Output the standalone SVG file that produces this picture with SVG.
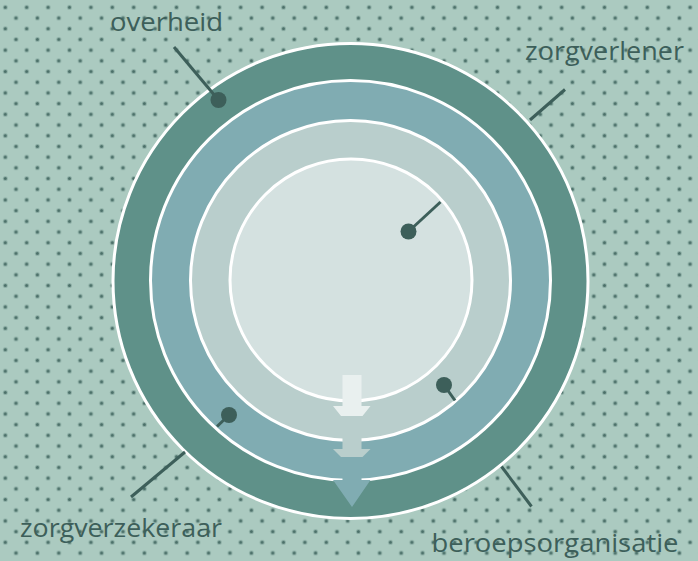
<svg xmlns="http://www.w3.org/2000/svg" width="698" height="561" viewBox="0 0 698 561">
<defs>
<pattern id="dots" patternUnits="userSpaceOnUse" x="0" y="0" width="21.4" height="21.4">
<circle cx="5.3" cy="7.3" r="2.5" fill="#6f948b" opacity="0.5"/>
<circle cx="5.3" cy="7.3" r="1.5" fill="#4a6f68"/>
<circle cx="16" cy="18" r="2.5" fill="#6f948b" opacity="0.5"/>
<circle cx="16" cy="18" r="1.5" fill="#4a6f68"/>
</pattern>
<style>
.ring{stroke:#ffffff;stroke-width:3}
.lbl{font-family:"Open Sans","Lato","DejaVu Sans",sans-serif;font-size:26px;fill:#3d5f5a}
.ln{stroke:#3d5f5a;stroke-width:3;fill:none}
.pin{fill:#3d5f5a}
</style>
</defs>
<rect x="0" y="0" width="698" height="561" fill="#abcac0"/>
<rect x="0" y="0" width="698" height="561" fill="url(#dots)"/>
<g id="rings">
<circle id="ring-outer" class="ring" cx="350.5" cy="281" r="237.5" fill="#5f9189"/>
<circle id="ring-2" class="ring" cx="350.5" cy="280.5" r="200" fill="#80acb2"/>
<circle id="ring-3" class="ring" cx="350.5" cy="280.5" r="160" fill="#b9cecc"/>
<circle id="ring-inner" class="ring" cx="351" cy="280" r="121" fill="#d4e1e0"/>
</g>
<g id="arrows">
<polygon id="arrow-1" fill="#e9f0ef" points="342.5,375 361.5,375 361.5,406 370.5,406 362.5,416 341,416 333,406 342.5,406"/>
<polygon id="arrow-2" fill="#b9cecc" points="342.5,430 361.5,430 361.5,449 370.5,449 362.5,457 341,457 333,449 342.5,449"/>
<polygon id="arrow-3" fill="#80acb2" points="342.5,458 361.5,458 361.5,480 370.5,480 352,507 333,480 342.5,480"/>
</g>
<g id="connectors">
<line class="ln" x1="174" y1="47" x2="218.5" y2="100"/>
<circle class="pin" cx="218.5" cy="100" r="8"/>
<line class="ln" x1="565" y1="89.5" x2="530" y2="120"/>
<line class="ln" x1="408.5" y1="231.5" x2="440.5" y2="202"/>
<circle class="pin" cx="408.5" cy="231.5" r="8"/>
<line class="ln" x1="444" y1="385" x2="455" y2="400.5"/>
<circle class="pin" cx="444" cy="385" r="8"/>
<line class="ln" x1="229" y1="415" x2="217" y2="426.5"/>
<circle class="pin" cx="229" cy="415" r="8"/>
<line class="ln" x1="185" y1="452" x2="131" y2="497"/>
<line class="ln" x1="501.5" y1="466.5" x2="531.5" y2="506.5"/>
</g>
<g id="label-overheid"><text class="lbl" x="110" y="31" textLength="113" lengthAdjust="spacingAndGlyphs">overheid</text></g>
<g id="label-zorgverlener"><text class="lbl" x="525" y="60" textLength="159" lengthAdjust="spacingAndGlyphs">zorgverlener</text></g>
<g id="label-zorgverzekeraar"><text class="lbl" x="20" y="536.5" textLength="202" lengthAdjust="spacingAndGlyphs">zorgverzekeraar</text></g>
<g id="label-beroepsorganisatie"><text class="lbl" x="431.5" y="551.5" textLength="247" lengthAdjust="spacingAndGlyphs">beroepsorganisatie</text></g>
</svg>
